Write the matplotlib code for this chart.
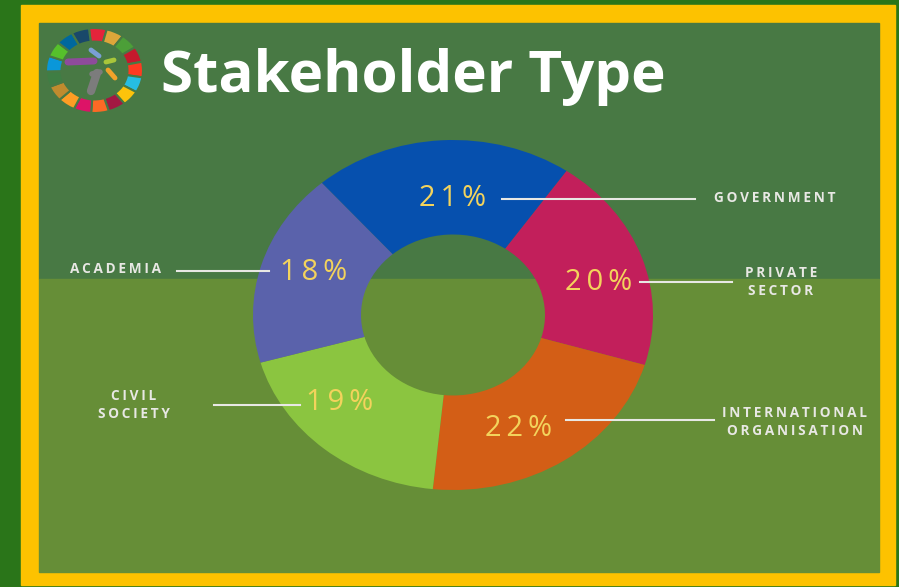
import numpy as np
import matplotlib.pyplot as plt
from matplotlib.patches import Rectangle

# Datos del gráfico
categorias = ['GOVERNMENT', 'PRIVATE\nSECTOR', 'INTERNATIONAL\nORGANISATION', 'CIVIL\nSOCIETY', 'ACADEMIA']
valores = [21, 20, 22, 19, 18]
colores = ['#0650ae', '#c21f5b', '#d35e16', '#8bc540', '#5a62ab']

# Posiciones (en pixeles de la imagen) de etiquetas, porcentajes y lineas guia
pos_pct = [(453, 199), (599, 282), (519, 428), (340, 403), (314, 272)]
pos_lbl = [(714, 198, 'left'), (781, 282, 'center'), (795, 422, 'center'),
           (134, 405, 'center'), (115, 269, 'center')]
lineas = [(502, 695, 199), (640, 732, 282), (566, 714, 420), (214, 300, 405), (177, 269, 271)]

# Colores de la rueda ODS (sentido horario desde arriba)
sdg = ['#e5243b', '#dda63a', '#4c9f38', '#c5192d', '#ff3a21', '#26bde2', '#fcc30b',
       '#a21942', '#fd6925', '#dd1367', '#fd9d24', '#bf8b2e', '#3f7e44', '#0a97d9',
       '#56c02b', '#00689d', '#19486a']

W, H = 899, 587
clr_out = '#2a7519'
clr_yel = '#fdc200'
clr_top = '#487944'
clr_bot = '#668e37'
clr_txt = '#e8e8e4'
clr_pct = '#f3d35c'
fuente = ['Open Sans', 'DejaVu Sans']

def sp(s, c='\u2009'):
    return '\n'.join(c.join(l) for l in s.split('\n'))

def fr(x0, y0, x1, y1):
    return [x0 / W, 1 - y1 / H, (x1 - x0) / W, (y1 - y0) / H]

fig = plt.figure(figsize=(W / 100, H / 100), dpi=100)
fig.patch.set_facecolor(clr_out)

# Fondo
bg = fig.add_axes([0, 0, 1, 1], zorder=0)
bg.set_xlim(0, W); bg.set_ylim(H, 0); bg.axis('off')
bg.add_patch(Rectangle((21, 5), 874, 580, color=clr_yel))
bg.add_patch(Rectangle((39, 23), 840, 256, color=clr_top))
bg.add_patch(Rectangle((39, 279), 840, 293, color=clr_bot))

# Dona
ax = fig.add_axes(fr(253, 140, 653, 490), zorder=1)
ax.pie(valores, colors=colores, startangle=131, counterclock=False,
       wedgeprops=dict(width=0.54, linewidth=0))
ax.set_aspect('auto')
ax.set_xlim(-1, 1); ax.set_ylim(-1, 1)
ax.patch.set_alpha(0)

# Logo ODS
lg = fig.add_axes(fr(46, 28, 143, 113), zorder=1)
lg.pie([1] * len(sdg), colors=sdg, startangle=90 + 180 / 17 - 4, counterclock=False,
       wedgeprops=dict(width=0.32, linewidth=1.5, edgecolor=clr_top))
lg.set_aspect('auto')
lg.set_xlim(-1, 1); lg.set_ylim(-1, 1)
lg.patch.set_alpha(0)

# Capa superior de textos y lineas
ov = fig.add_axes([0, 0, 1, 1], zorder=2)
ov.set_xlim(0, W); ov.set_ylim(H, 0); ov.axis('off')

# Figuras internas del logo
ov.plot([68, 94], [62, 61], color='#8e4b9b', lw=5, solid_capstyle='round')
ov.plot([97, 91], [73, 91], color='#7c7c7c', lw=6, solid_capstyle='round')
ov.plot([92, 100], [74, 72], color='#7c7c7c', lw=4, solid_capstyle='round')
ov.plot([91, 99], [50, 56], color='#7a9fd6', lw=3.5, solid_capstyle='round')
ov.plot([106, 114], [62, 60], color='#a8c63a', lw=3.5, solid_capstyle='round')
ov.plot([108, 115], [70, 78], color='#f0a22a', lw=3.5, solid_capstyle='round')

ov.text(161, 92, 'Stakeholder Type', color='white', fontsize=42, fontweight='bold',
        family=fuente, ha='left', va='baseline')

for (x0, x1, y) in lineas:
    ov.plot([x0, x1], [y, y], color=clr_txt, lw=1.5)

for (x, y), v in zip(pos_pct, valores):
    ov.text(x, y, sp(f'{v}%'), color=clr_pct, fontsize=21, family=fuente,
            ha='center', va='center')

for (x, y, a), c in zip(pos_lbl, categorias):
    ov.text(x, y, sp(c), color=clr_txt, fontsize=9.8, fontweight='bold', family=fuente,
            ha=a, va='center', multialignment='center', linespacing=1.45)

fig.savefig('out.png', dpi=100, facecolor=fig.get_facecolor())
